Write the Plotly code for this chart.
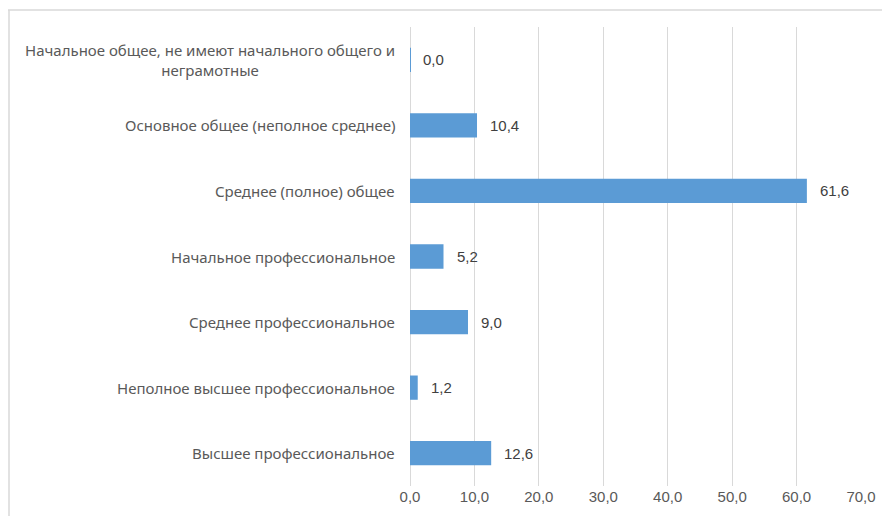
import plotly.graph_objects as go

categories = [
    "Начальное общее, не имеют начального общего и<br>неграмотные",
    "Основное общее (неполное среднее)",
    "Среднее (полное) общее",
    "Начальное профессиональное",
    "Среднее профессиональное",
    "Неполное высшее профессиональное",
    "Высшее профессиональное",
]
values = [0.0, 10.4, 61.6, 5.2, 9.0, 1.2, 12.6]
tick_values = [0, 10, 20, 30, 40, 50, 60, 70]
tick_labels = ["0,0", "10,0", "20,0", "30,0", "40,0", "50,0", "60,0", "70,0"]

FONT = "Noto Sans, Liberation Sans, sans-serif"
NUMFONT = "Liberation Sans, sans-serif"
GRID = "#D9D9D9"

W, H = 882, 508
ML, MR, MT, MB = 402, 29, 19, 30
PW = W - ML - MR
PH = H - MT - MB

fig = go.Figure()
fig.add_trace(go.Bar(
    x=[v if v > 0 else 0.08 for v in values],
    y=categories,
    orientation="h",
    marker=dict(color="#5B9BD5", line=dict(width=0)),
    hoverinfo="skip",
))

annotations = []
for c, v in zip(categories, values):
    annotations.append(dict(
        x=v, y=c, xref="x", yref="y", text=f"{v:.1f}".replace(".", ","),
        showarrow=False, xanchor="left", xshift=11,
        font=dict(family=NUMFONT, size=15, color="#404040"),
    ))
    annotations.append(dict(
        x=0, y=c, xref="paper", yref="y", text=c,
        showarrow=False, xanchor="right", xshift=-13, align="center",
        font=dict(family=FONT, size=15, color="#595959"),
    ))

px_x = lambda p: (p - ML) / PW
px_y = lambda p: (H - MB - p) / PH

fig.update_layout(
    width=W, height=H,
    margin=dict(l=ML, r=MR, t=MT, b=MB),
    paper_bgcolor="white", plot_bgcolor="white",
    showlegend=False,
    bargap=0.63,
    annotations=annotations,
    xaxis=dict(
        range=[0, 70], tickmode="array", tickvals=tick_values, ticktext=tick_labels,
        showgrid=True, gridcolor=GRID, gridwidth=1,
        zeroline=True, zerolinecolor=GRID, zerolinewidth=1,
        showline=False, ticks="",
        tickfont=dict(family=NUMFONT, size=15, color="#595959"),
        fixedrange=True,
    ),
    yaxis=dict(
        autorange="reversed", showticklabels=False, showgrid=False,
        zeroline=False, showline=False, ticks="", fixedrange=True,
    ),
    shapes=[
        dict(type="line", xref="paper", yref="paper",
             x0=px_x(0), x1=px_x(W),
             y0=px_y(2), y1=px_y(2),
             line=dict(color=GRID, width=1.5)),
        dict(type="line", xref="paper", yref="paper",
             x0=px_x(1), x1=px_x(1),
             y0=px_y(2), y1=px_y(H),
             line=dict(color=GRID, width=1.5)),
    ],
)

fig.write_html("out.html")
